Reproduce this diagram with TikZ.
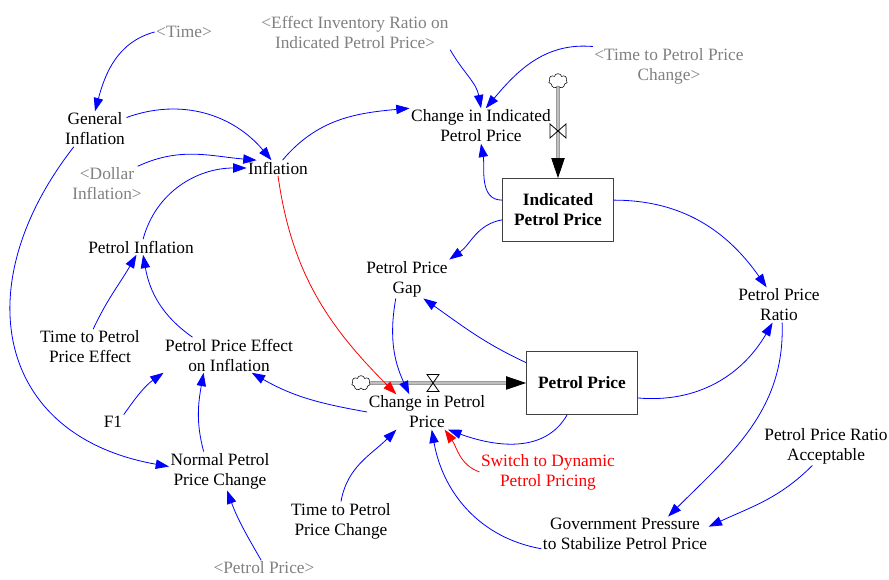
\documentclass[tikz,border=0pt]{standalone}
\usepackage{fontspec}
\setmainfont{Liberation Serif}
\usetikzlibrary{arrows.meta}
\usetikzlibrary{shapes.symbols}

\begin{document}
\begin{tikzpicture}[x=0.75pt,y=0.75pt,>={Triangle[length=10pt,width=7pt]},
  every node/.style={font=\fontsize{13}{15}\selectfont,align=center,inner sep=1pt},
  shadow/.style={text=gray},
  stock/.style={draw=black!75,line width=0.8pt,minimum width=83pt,minimum height=47pt,font=\fontsize{13}{15}\selectfont\bfseries},
  link/.style={->,blue,line width=0.6pt},
  pipe/.style={draw=black!60,double=black!25,double distance=1.2pt,line width=0.7pt},
  flowtip/.style={-{Triangle[length=15pt,width=10pt]},line width=0.7pt},
  valve/.style={draw,line width=0.6pt},
  source/.style={cloud,cloud puffs=7,cloud ignores aspect,draw,minimum width=14pt,minimum height=11pt,inner sep=0pt}]
\useasboundingbox (0,0) rectangle (889,580);

\node[shadow] (time) at (184,548) {<Time>};
\node[shadow] (eir) at (355,548) {<Effect Inventory Ratio on\\Indicated Petrol Price>};
\node[shadow] (tpc2) at (669,514) {<Time to Petrol Price\\Change>};
\node (gi) at (95,451) {General\\Inflation};
\node (infl) at (278,412) {Inflation};
\node[shadow] (dol) at (107,396) {<Dollar\\Inflation>};
\node (cipp) at (481,454) {Change in Indicated\\Petrol Price};
\node[stock] (ipp) at (558,370) {Indicated\\Petrol Price};
\node (pinf) at (141,333) {Petrol Inflation};
\node (gap) at (407,301) {Petrol Price\\Gap};
\node (ratio) at (779,275) {Petrol Price\\Ratio};
\node (tpe) at (90,233) {Time to Petrol\\Price Effect};
\node (ppe) at (229,225) {Petrol Price Effect\\on Inflation};
\node[stock] (pp) at (582,197) {Petrol Price};
\node (cpp) at (427,168) {Change in Petrol\\Price};
\node (f1) at (113,158) {F1};
\node (nppc) at (220,109) {Normal Petrol\\Price Change};
\node[text=red] (sw) at (548,108) {Switch to Dynamic\\Petrol Pricing};
\node (ppra) at (826,134) {Petrol Price Ratio\\Acceptable};
\node (tpc) at (341,59) {Time to Petrol\\Price Change};
\node (gov) at (625,46) {Government Pressure\\to Stabilize Petrol Price};
\node[shadow] (ppsh) at (264,12) {<Petrol Price>};

\node[source] (c1) at (361,197) {};
\node[source] (c2) at (558,499) {};
\coordinate (v1) at (433,197);
\coordinate (v2) at (558,449);

\draw[pipe] (c1) -- ([xshift=-14pt]pp.west);
\draw[flowtip] ([xshift=-15pt]pp.west) -- (pp.west);
\draw[valve] ([shift={(-6,8.5)}]v1) -- ([shift={(6,8.5)}]v1) -- ([shift={(-6,-8.5)}]v1) -- ([shift={(6,-8.5)}]v1) -- cycle;
\draw[pipe] (c2) -- ([yshift=14pt]ipp.north);
\draw[flowtip] ([yshift=15pt]ipp.north) -- (ipp.north);
\draw[valve] ([shift={(-8,7)}]v2) -- ([shift={(8,-7)}]v2) -- ([shift={(8,7)}]v2) -- ([shift={(-8,-7)}]v2) -- cycle;

\draw[link] (time.west) to[out=195,in=75] (gi.north);
\draw[link] (gi.20) to[out=20,in=130] (infl.130);
\draw[link] (dol.30) to[out=25,in=175] (infl.160);
\draw[link] (pinf.75) to[out=75,in=180] (infl.west);
\draw[link] (infl.60) to[out=50,in=185] (cipp.north west);
\draw[link,red] (infl.south) to[out=-82,in=135] (cpp.150);
\draw[link] (eir.south east) to[out=-60,in=100] (cipp.north);
\draw[link] (tpc2.north west) to[out=175,in=50] (cipp.75);
\draw[link] (ipp.170) to[out=180,in=-80] (cipp.south);
\draw[link] (ipp.190) to[out=190,in=35] (gap.north east);
\draw[link] (ipp.10) to[out=0,in=125] (ratio.125);
\draw[link] (gap.-120) to[out=-100,in=115] (cpp.135);
\draw[link] (pp.160) to[out=155,in=-35] (gap.-50);
\draw[link] (pp.-15) to[out=-5,in=-120] (ratio.-110);
\draw[link] (pp.-115) to[out=-120,in=-20] (cpp.-40);
\draw[link] (ratio.-80) to[out=-88,in=45] (gov.22);
\draw[link] (ppra.-125) to[out=-135,in=25] (gov.5);
\draw[link] (gov.190) to[out=170,in=-80] (cpp.-75);
\draw[link,red] (sw.west) to[out=160,in=-55] (cpp.-45);
\draw[link] (tpc.north) to[out=80,in=-135] (cpp.-150);
\draw[link] (cpp.west) to[out=170,in=-30] (ppe.-38);
\draw[link] (f1.north east) to[out=55,in=-145] (ppe.south west);
\draw[link] (nppc.130) to[out=105,in=-100] (ppe.-145);
\draw[link] (ppsh.110) to[out=120,in=-70] (nppc.-70);
\draw[link] (gi.-140) to[out=-128,in=170,looseness=1.35] (nppc.175);
\draw[link] (tpe.80) to[out=65,in=-120] (pinf.-120);
\draw[link] (ppe.154) to[out=145,in=-80] (pinf.-75);
\end{tikzpicture}
\end{document}
